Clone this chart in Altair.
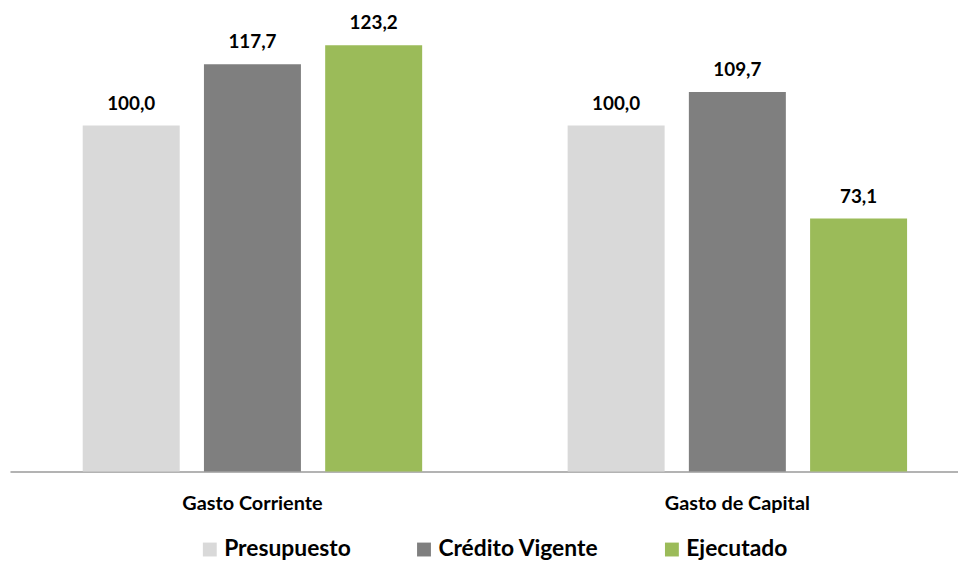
import altair as alt
import pandas as pd

categorias = ["Gasto Corriente", "Gasto de Capital"]
series = ["Presupuesto", "Crédito Vigente", "Ejecutado"]
gasto_corriente = [100.0, 117.7, 123.2]
gasto_capital = [100.0, 109.7, 73.1]
colores = ["#D9D9D9", "#7F7F7F", "#9BBB59"]

rows = []
for cat, vals in zip(categorias, [gasto_corriente, gasto_capital]):
    for s, v in zip(series, vals):
        rows.append({"Categoria": cat, "Serie": s, "Valor": v,
                     "Etiqueta": f"{v:.1f}".replace(".", ",")})
df = pd.DataFrame(rows)

FONT = "Lato"

x = alt.X("Categoria:N", sort=categorias, title=None,
          scale=alt.Scale(range=[0, 978], paddingInner=0, paddingOuter=0),
          axis=alt.Axis(labelAngle=0, labelFont=FONT, labelFontSize=20,
                        labelFontWeight="bold", labelColor="#000000",
                        labelPadding=22, ticks=False, domainColor="#B3B3B3",
                        domainWidth=2, grid=False))
xoff = alt.XOffset("Serie:N", sort=series,
                   scale=alt.Scale(paddingInner=0.2, paddingOuter=0.6))
y = alt.Y("Valor:Q", scale=alt.Scale(domain=[0, 132.7], nice=False, zero=True),
          axis=None)

bars = alt.Chart(df).mark_bar().encode(
    x=x, xOffset=xoff, y=y,
    color=alt.Color("Serie:N", sort=series,
                    scale=alt.Scale(domain=series, range=colores),
                    legend=alt.Legend(orient="none", legendX=190, legendY=530,
                                      direction="horizontal", title=None,
                                      symbolType="square", symbolSize=196,
                                      symbolStrokeWidth=0, labelFont=FONT,
                                      labelFontSize=23, labelFontWeight="bold",
                                      labelColor="#000000", labelOffset=3,
                                      labelLimit=400, columnPadding=62)),
)

text = alt.Chart(df).mark_text(font=FONT, fontSize=19, fontWeight="bold",
                               dy=-16, baseline="alphabetic",
                               color="#000000").encode(
    x=x, xOffset=xoff, y=y, text="Etiqueta:N")

chart = alt.layer(bars, text).properties(
    width=956, height=463,
    autosize=alt.AutoSizeParams(type="none"),
    padding={"left": 2, "top": 2, "right": 0, "bottom": 90},
).configure_view(stroke=None)

chart.save("out.html", embed_options={"renderer": "svg", "actions": False})
